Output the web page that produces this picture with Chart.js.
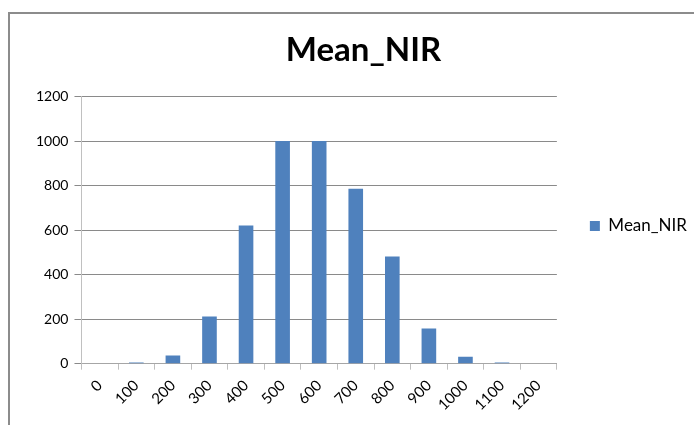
<!DOCTYPE html>
<html>
<head>
<meta charset="utf-8">
<script src="https://cdn.jsdelivr.net/npm/chart.js@4"></script>
<style>
body{margin:0;background:#fff;}
#wrap{position:relative;width:694px;height:425px;}
#frame{position:absolute;left:8px;top:12px;right:0;bottom:0;border-top:2px solid #8c8c8c;border-left:2px solid #8c8c8c;pointer-events:none;}
</style>
</head>
<body>
<div id="wrap">
<canvas id="chart" width="694" height="425"></canvas>
<div id="frame"></div>
</div>
<script>

// DATA
const categories = ["0","100","200","300","400","500","600","700","800","900","1000","1100","1200"]
const meanNIR = [0,5,37,212,621,1000,1000,786,481,158,31,5,0]
const yTicks = [0,200,400,600,800,1000,1200]

const ctx = document.getElementById("chart")

const chart = new Chart(ctx,{
type:"bar",
data:{
labels:categories,
datasets:[{
label:"Mean_NIR",
data:meanNIR,
backgroundColor:"#4f81bd",
barPercentage:0.8,
categoryPercentage:0.5
}]
},
options:{
responsive:false,
animation:false,
layout:{padding:{top:31,left:30,right:-3,bottom:4}},
plugins:{
title:{
display:true,
text:"Mean_NIR",
color:"#000",
font:{family:"Lato",size:33,weight:"bold"},
padding:{top:0,bottom:26}
},
legend:{
position:"right",
labels:{
boxWidth:10,
boxHeight:10,
color:"#000",
padding:33,
font:{family:"Lato",size:17}
}
},
tooltip:{enabled:false}
},
scales:{
x:{
grid:{display:true,drawOnChartArea:false,drawTicks:true,tickLength:6,color:"#bfbfbf"},
border:{color:"#a6a6a6"},
ticks:{color:"#000",font:{family:"Lato",size:15},maxRotation:45,minRotation:45,padding:7}
},
y:{
min:0,
max:1200,
afterBuildTicks:(axis)=>{axis.ticks = yTicks.map(v=>({value:v}))},
grid:{color:"#8a8a8a",tickLength:7,tickColor:"#8a8a8a"},
border:{color:"#c0c0c0"},
ticks:{color:"#000",font:{family:"Lato",size:14},padding:6,callback:(v)=>String(v)}
}
}
}
})

</script>
</body>
</html>
